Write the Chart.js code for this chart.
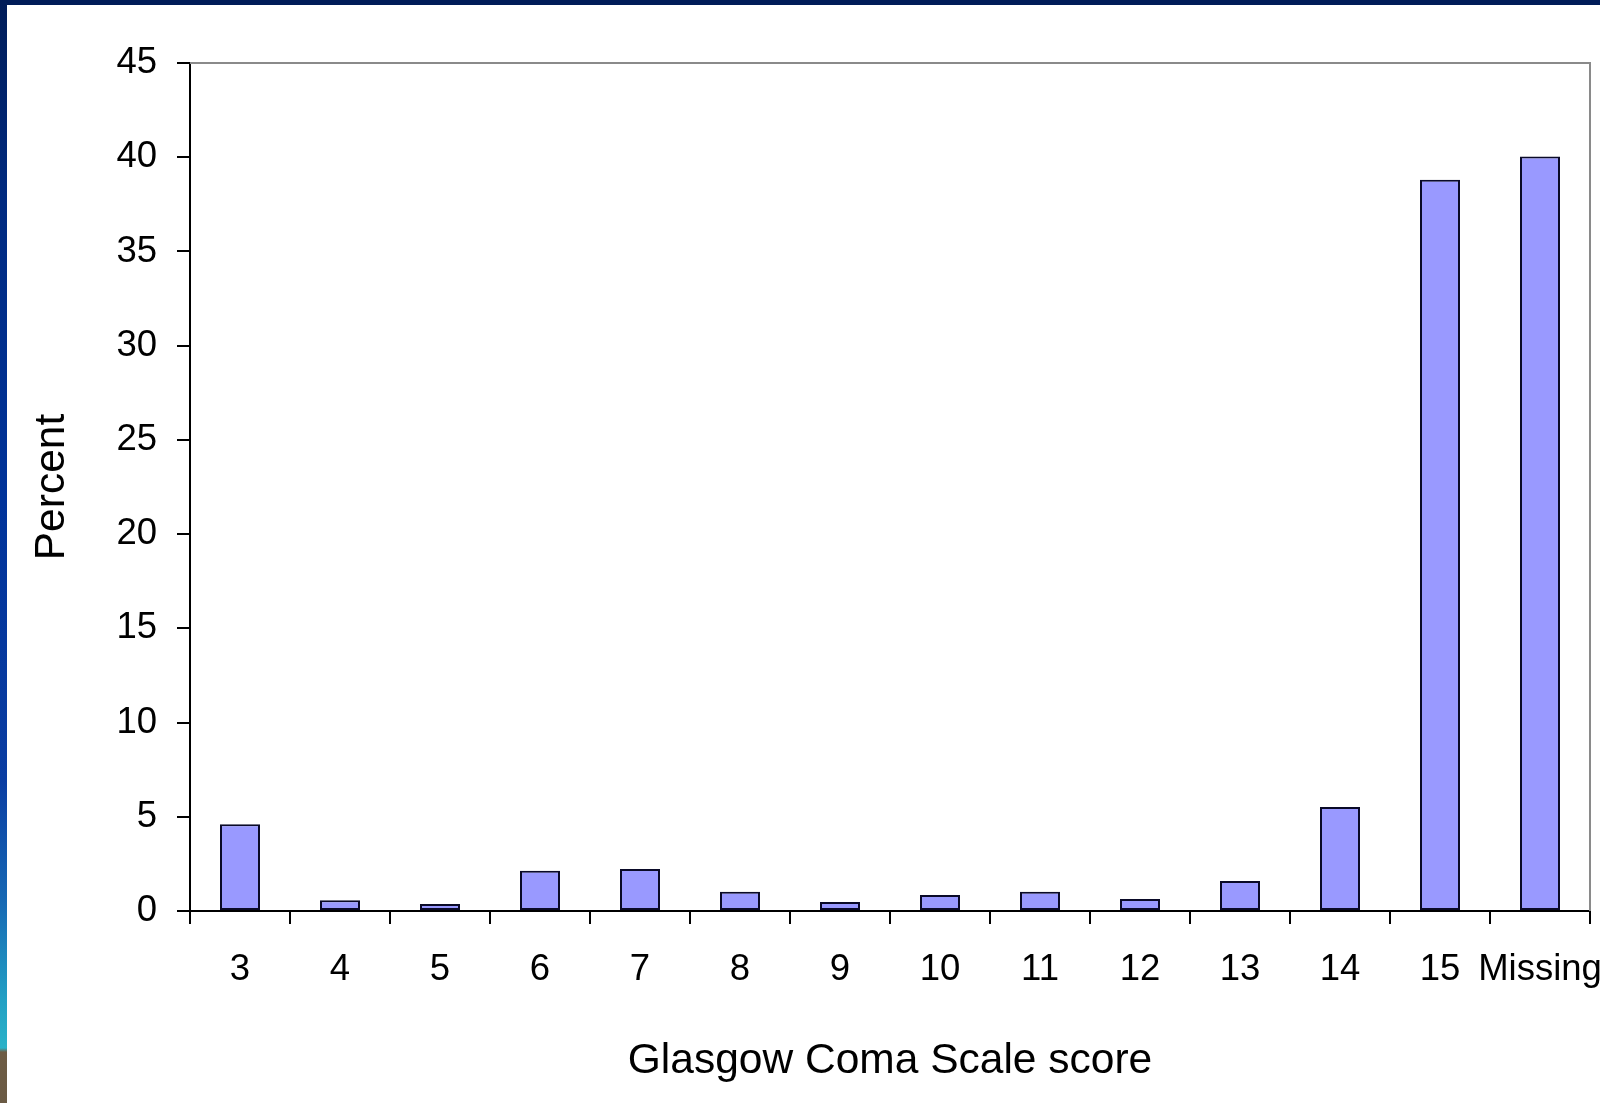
<!DOCTYPE html>
<html>
<head>
<meta charset="utf-8">
<script src="https://cdn.jsdelivr.net/npm/chart.js@4.4.1/dist/chart.umd.min.js"></script>
<style>
  html, body { margin: 0; padding: 0; background: #fff; overflow: hidden; }
  #wrap { position: relative; width: 1600px; height: 1103px; }
  #gcs { position: absolute; left: 0; top: 0; }
  .frameTop { position: absolute; left: 0; top: 0; width: 1600px; height: 5px; background: #001c58; }
  .frameLeft {
    position: absolute; left: 0; top: 0; width: 7px; height: 1103px;
    background: linear-gradient(to bottom, #001c58 0px, #002a80 200px, #00339a 500px, #0a3da2 780px,
      #1668b4 900px, #22a0c4 1000px, #2ab2c8 1048px, #6e5c44 1052px, #6a5a44 1103px);
  }
</style>
</head>
<body>
<div id="wrap">
  <canvas id="gcs" width="1600" height="1103"></canvas>
  <div class="frameTop"></div>
  <div class="frameLeft"></div>
</div>
<script>
  // categories and values
  const scoreLabels = ['3', '4', '5', '6', '7', '8', '9', '10', '11', '12', '13', '14', '15', 'Missing'];
  const percentValues = [4.6, 0.57, 0.37, 2.14, 2.23, 1.02, 0.48, 0.85, 1.02, 0.64, 1.59, 5.52, 38.8, 40.04];
  const yTicks = { min: 0, max: 45, step: 5 };

  const FONT = "'Liberation Sans', Arial, sans-serif";

  // gray top/right border of the plot area (Excel style)
  const plotBorder = {
    id: 'plotBorder',
    afterDraw(chart) {
      const { ctx, chartArea: a } = chart;
      ctx.save();
      ctx.strokeStyle = '#8a8a8a';
      ctx.lineWidth = 2;
      ctx.beginPath();
      ctx.moveTo(a.left, a.top);
      ctx.lineTo(a.right, a.top);
      ctx.lineTo(a.right, a.bottom);
      ctx.stroke();
      ctx.restore();
    }
  };

  new Chart(document.getElementById('gcs').getContext('2d'), {
    type: 'bar',
    data: {
      labels: scoreLabels,
      datasets: [{
        label: 'Percent',
        data: percentValues,
        backgroundColor: '#9999ff',
        borderColor: '#0a0a28',
        borderWidth: 2,
        borderSkipped: false,
        categoryPercentage: 1.0,
        barPercentage: 0.4
      }]
    },
    options: {
      responsive: false,
      animation: false,
      devicePixelRatio: 1,
      layout: { padding: { top: 63, right: 10, left: 0, bottom: 0 } },
      plugins: {
        legend: { display: false },
        tooltip: { enabled: false }
      },
      scales: {
        x: {
          grid: {
            display: true,
            offset: true,
            drawOnChartArea: false,
            drawTicks: true,
            tickLength: 13,
            color: '#000',
            lineWidth: 2
          },
          border: { display: true, color: '#000', width: 2 },
          ticks: {
            color: '#000',
            font: { family: FONT, size: 36.5 },
            padding: 24,
            maxRotation: 0,
            autoSkip: false
          },
          title: {
            display: true,
            text: 'Glasgow Coma Scale score',
            color: '#000',
            font: { family: FONT, size: 42.5 },
            padding: { top: 0, bottom: 16 }
          },
          afterFit(scale) {
            scale.height = 192;
            scale.paddingLeft = 0;
            scale.paddingRight = 0;
          }
        },
        y: {
          min: yTicks.min,
          max: yTicks.max,
          grid: {
            display: true,
            drawOnChartArea: false,
            drawTicks: true,
            tickLength: 13,
            color: '#000',
            lineWidth: 2
          },
          border: { display: true, color: '#000', width: 2 },
          ticks: {
            stepSize: yTicks.step,
            color: '#000',
            font: { family: FONT, size: 36.5 },
            padding: 20
          },
          title: {
            display: true,
            text: 'Percent',
            color: '#000',
            font: { family: FONT, size: 42.5 },
            padding: { top: 27, bottom: 0 }
          },
          afterFit(scale) {
            scale.width = 190;
            scale.paddingTop = 0;
            scale.paddingBottom = 0;
          }
        }
      }
    },
    plugins: [plotBorder]
  });
</script>
</body>
</html>
